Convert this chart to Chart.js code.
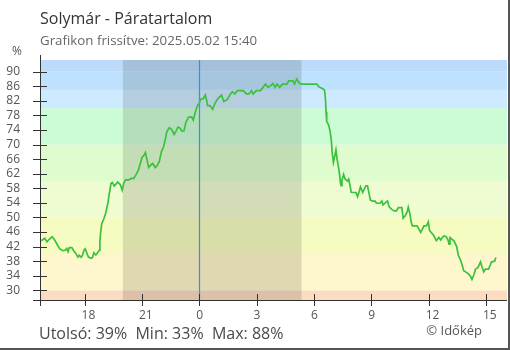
<!DOCTYPE html>
<html lang="hu">
<head>
<meta charset="utf-8">
<title>Solymár - Páratartalom</title>
<script src="https://cdn.jsdelivr.net/npm/chart.js@4.4.1/dist/chart.umd.min.js"></script>
<style>
  html, body { margin: 0; padding: 0; background: #fff; }
  #wrap { position: relative; width: 510px; height: 350px; overflow: hidden; font-family: 'Open Sans', sans-serif; }
  #wrap canvas { position: absolute; left: 0; top: 0; }
  .txt { position: absolute; line-height: 1; white-space: pre; }
  #title { left: 40px; top: 10px; font-size: 16px; color: #333; }
  #updated { left: 40px; top: 34px; font-size: 13.3px; color: #666; }
  #unit { left: 12px; top: 45px; font-size: 12px; color: #555; }
  #stats { left: 39px; top: 325px; font-size: 16px; color: #4a4a4a; }
  #credit { right: 28px; top: 324px; font-size: 13px; color: #555; }
  #frame { position: absolute; left: 0; top: 0; width: 510px; height: 350px; box-sizing: border-box;
           border-right: 2px solid #555; border-bottom: 2px solid #555; pointer-events: none; }
</style>
</head>
<body>
<div id="wrap">
  <canvas id="chart" width="510" height="350"></canvas>
  <div class="txt" id="title">Solymár - Páratartalom</div>
  <div class="txt" id="updated">Grafikon frissítve: 2025.05.02 15:40</div>
  <div class="txt" id="unit">%</div>
  <div class="txt" id="stats"></div>
  <div class="txt" id="credit">© Időkép</div>
  <div id="frame"></div>
</div>
<script>
// 24 hour window, readings from 15:40 the day before up to now
const startTime = '15:40';

const times = [
  '15:44','15:55','16:02','16:09','16:18','16:26','16:33','16:41','16:51','16:59',
  '17:04','17:08','17:12','17:20','17:25','17:32','17:39','17:43','17:49','17:53',
  '17:58','18:02','18:07','18:12','18:21','18:25','18:29','18:35','18:41','18:46',
  '18:48','18:50','18:54','19:00','19:06','19:13','19:17','19:23','19:27','19:33',
  '19:39','19:44','19:52','19:58','20:03','20:09','20:19','20:26','20:34','20:42',
  '20:49','20:55','21:00','21:07','21:11','21:16','21:21','21:28','21:34','21:42',
  '21:49','21:55','22:01','22:08','22:14','22:18','22:26','22:33','22:41','22:47',
  '22:53','23:00','23:05','23:12','23:18','23:26','23:36','23:41','23:48','23:54',
  '00:00','00:04','00:12','00:19','00:23','00:26','00:33','00:42','00:49','00:59',
  '01:10','01:17','01:28','01:38','01:44','01:52','01:59','02:18','02:28','02:36',
  '02:44','02:49','02:59','03:12','03:20','03:28','03:36','03:46','03:51','03:58',
  '04:04','04:12','04:21','04:35','04:41','04:54','04:59','05:06','05:13','05:20',
  '06:09','06:15','06:26','06:33','06:36','06:38','06:40','06:46','06:51','06:55',
  '06:57','07:01','07:06','07:09','07:13','07:17','07:20','07:23','07:25','07:28',
  '07:33','07:38','07:45','07:49','07:53','07:57','08:12','08:17','08:22','08:26',
  '08:33','08:39','08:43','08:48','08:53','08:57','09:04','09:12','09:16','09:27',
  '09:33','09:37','09:43','09:51','09:56','10:04','10:12','10:19','10:25','10:36',
  '10:40','10:46','10:53','10:56','11:01','11:05','11:09','11:24','11:30','11:35',
  '11:40','11:45','11:53','11:59','12:03','12:09','12:17','12:24','12:32','12:38',
  '12:43','12:48','12:55','13:01','13:04','13:07','13:14','13:20','13:28','13:33',
  '13:40','13:45','13:50','14:01','14:06','14:11','14:16','14:22','14:27','14:35',
  '14:43','14:48','14:53','14:58','15:08','15:14','15:17','15:27','15:31'
];

const humidity = [
  43.6, 44.3, 43.3, 44.0, 44.7, 43.8, 42.7, 41.5, 40.9, 41.0,
  41.5, 40.6, 41.7, 41.7, 41.0, 40.2, 39.1, 39.6, 39.1, 39.5,
  41.0, 41.4, 40.2, 39.1, 38.8, 39.0, 40.3, 39.7, 40.3, 41.0,
  43.3, 45.6, 48.4, 49.5, 51.1, 53.9, 56.2, 59.4, 59.6, 58.6,
  59.2, 59.7, 59.0, 57.5, 59.4, 60.3, 60.3, 60.7, 60.7, 61.8,
  63.0, 64.8, 66.4, 67.1, 67.8, 65.8, 63.7, 64.4, 64.8, 63.7,
  64.4, 65.5, 68.0, 69.4, 71.7, 73.5, 74.6, 74.2, 72.8, 73.7,
  74.8, 74.5, 73.7, 73.8, 76.1, 77.5, 77.6, 76.7, 79.0, 80.7,
  81.3, 82.5, 82.5, 83.6, 82.2, 80.7, 80.7, 79.7, 81.3, 82.7,
  83.6, 81.8, 82.4, 83.9, 84.5, 83.9, 84.8, 84.8, 83.9, 83.9,
  84.8, 83.9, 84.8, 84.8, 85.7, 86.6, 85.7, 86.3, 86.8, 85.7,
  86.6, 85.7, 86.6, 86.6, 87.5, 87.5, 86.6, 88.0, 87.0, 86.6,
  86.6, 85.9, 85.4, 85.0, 82.7, 79.0, 76.3, 75.4, 73.5, 70.8,
  68.0, 65.1, 67.1, 68.5, 65.8, 63.9, 62.1, 59.6, 58.7, 60.3,
  61.8, 60.5, 60.0, 60.5, 58.9, 56.9, 56.8, 55.7, 57.1, 58.4,
  56.9, 58.0, 58.7, 58.7, 56.6, 54.8, 54.5, 54.5, 53.9, 53.9,
  54.5, 53.4, 53.9, 54.5, 52.9, 52.2, 51.8, 51.8, 52.7, 52.7,
  49.8, 50.4, 51.6, 52.8, 51.1, 48.8, 47.7, 47.7, 46.7, 45.9,
  46.7, 47.7, 47.7, 48.8, 46.4, 45.8, 44.9, 43.6, 44.5, 43.8,
  44.5, 44.9, 44.7, 43.8, 42.7, 44.5, 44.0, 43.5, 42.0, 39.7,
  38.3, 37.0, 35.4, 34.8, 34.4, 33.9, 33.0, 34.2, 35.8, 36.3,
  37.8, 36.3, 35.1, 35.8, 35.8, 37.0, 37.8, 38.0, 39.0
];

const hourTicks = ['18:00', '21:00', '00:00', '03:00', '06:00', '09:00', '12:00', '15:00'];
const humidityTicks = [30, 34, 38, 42, 46, 50, 54, 58, 62, 66, 70, 74, 78, 82, 86, 90];

// humidity bands, bottom to top
const bandEdges = [30, 40, 50, 60, 70, 80, 85, 90];
const bandColors = ['#fbdcc0', '#fef6cc', '#f6fcc1', '#effcd2', '#defccd', '#ccfcd6', '#cdeafe', '#bee2fd', '#bcdbfa'];

const nightSpan = ['20:00', '05:21'];

// minutes relative to midnight; anything after the start time belongs to the previous day
function toMinutes(t) {
    const [h, m] = t.split(':').map(Number);
    const [sh, sm] = startTime.split(':').map(Number);
    const mins = h * 60 + m;
    return mins >= sh * 60 + sm ? mins - 1440 : mins;
}

const last = Math.round(humidity[humidity.length - 1]);
const low = Math.round(Math.min(...humidity));
const high = Math.round(Math.max(...humidity));
document.getElementById('stats').textContent = `Utolsó: ${last}%  Min: ${low}%  Max: ${high}%`;

const backdrop = {
    id: 'backdrop',
    beforeDatasetsDraw(chart) {
        const { ctx, chartArea: a, scales: { x, y } } = chart;
        ctx.save();
        for (let i = 0; i < bandColors.length; i++) {
            const lo = i === 0 ? a.bottom : y.getPixelForValue(bandEdges[i - 1]);
            const hi = i === bandEdges.length ? a.top : y.getPixelForValue(bandEdges[i]);
            ctx.fillStyle = bandColors[i];
            ctx.fillRect(a.left, hi, a.right - a.left, lo - hi);
        }
        const n0 = x.getPixelForValue(toMinutes(nightSpan[0]));
        const n1 = x.getPixelForValue(toMinutes(nightSpan[1]));
        ctx.fillStyle = 'rgba(0,0,0,0.12)';
        ctx.fillRect(n0, a.top, n1 - n0, a.bottom - a.top);

        const mid = Math.round(x.getPixelForValue(toMinutes('00:00'))) + 0.5;
        ctx.strokeStyle = '#2e93ea';
        ctx.lineWidth = 1.2;
        ctx.beginPath();
        ctx.moveTo(mid, a.top);
        ctx.lineTo(mid, a.bottom);
        ctx.stroke();
        ctx.restore();
    }
};

// axis lines with ticks crossing them
const axes = {
    id: 'axes',
    afterDatasetsDraw(chart) {
        const { ctx, chartArea: a, scales: { x, y } } = chart;
        ctx.save();
        ctx.strokeStyle = '#333';
        ctx.lineWidth = 1;
        ctx.beginPath();
        const ax = Math.round(a.left) + 0.5;
        const ay = Math.round(a.bottom) + 0.5;
        ctx.moveTo(ax, a.top - 5);
        ctx.lineTo(ax, a.bottom + 6);
        ctx.moveTo(a.left - 7, ay);
        ctx.lineTo(a.right, ay);
        humidityTicks.forEach(v => {
            const py = Math.round(y.getPixelForValue(v)) + 0.5;
            ctx.moveTo(a.left - 7, py);
            ctx.lineTo(a.left + 7, py);
        });
        hourTicks.forEach(t => {
            const px = Math.round(x.getPixelForValue(toMinutes(t))) + 0.5;
            ctx.moveTo(px, a.bottom - 6);
            ctx.lineTo(px, a.bottom + 6);
        });
        ctx.stroke();
        ctx.restore();
    }
};

const tickFont = { family: 'Open Sans', size: 12 };

new Chart(document.getElementById('chart'), {
    type: 'line',
    data: {
        datasets: [{
            data: times.map((t, i) => ({ x: toMinutes(t), y: humidity[i] })),
            borderColor: '#3cc13c',
            borderWidth: 1.7,
            pointRadius: 0,
            tension: 0,
            fill: false
        }]
    },
    options: {
        responsive: false,
        animation: false,
        events: [],
        layout: { padding: { top: 60, right: 3, left: 0, bottom: 0 } },
        plugins: { legend: { display: false }, tooltip: { enabled: false } },
        scales: {
            x: {
                type: 'linear',
                min: toMinutes(startTime),
                max: 966,
                grid: { display: false, drawTicks: false },
                border: { display: false },
                afterBuildTicks: s => { s.ticks = hourTicks.map(t => ({ value: toMinutes(t) })); },
                afterFit: s => { s.height = 50; },
                ticks: {
                    autoSkip: false, maxRotation: 0, align: 'start', labelOffset: -3, padding: 8,
                    color: '#555', font: tickFont,
                    callback: v => String(((v / 60) + 24) % 24)
                }
            },
            y: {
                min: 27.34,
                max: 93.21,
                grid: { display: false, drawTicks: false },
                border: { display: false },
                afterBuildTicks: s => { s.ticks = humidityTicks.map(v => ({ value: v })); },
                afterFit: s => { s.width = 40; },
                ticks: { autoSkip: false, padding: 20, color: '#555', font: tickFont }
            }
        }
    },
    plugins: [backdrop, axes]
});
</script>
</body>
</html>
